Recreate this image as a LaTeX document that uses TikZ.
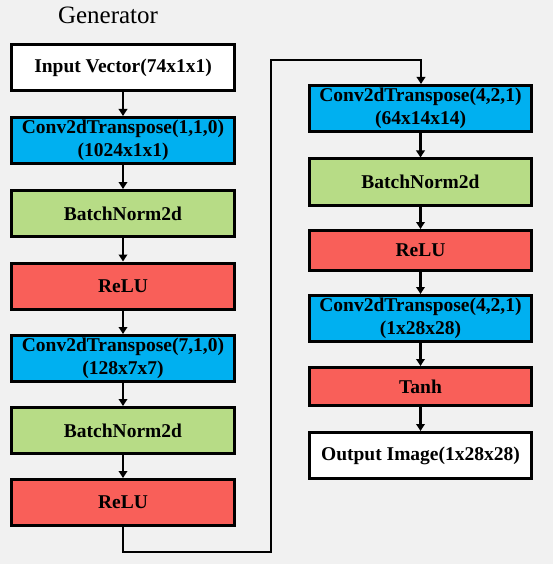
\documentclass[tikz,border=0pt]{standalone}
\usepackage{fontspec}
\setmainfont{Liberation Serif}
\usetikzlibrary{arrows.meta}

\definecolor{bgGray}{HTML}{F1F1F1}
\definecolor{convBlue}{HTML}{00B0F0}
\definecolor{normGreen}{HTML}{B7DC86}
\definecolor{actRed}{HTML}{F95F59}

\begin{document}
\begin{tikzpicture}[x=1pt, y=-1pt,
        >={Triangle[length=7pt,width=8.5pt]},
        layer/.style={draw, line width=3pt, minimum width=223pt, minimum height=46pt,
            inner sep=0pt, align=center, font=\fontsize{19.5}{23}\selectfont\bfseries},
        conv/.style={layer, fill=convBlue},
        norm/.style={layer, fill=normGreen},
        act/.style={layer, fill=actRed},
        io/.style={layer, fill=white},
        link/.style={->, line width=2.5pt}]
        % Background
        \fill[bgGray] (0,0) rectangle (553,564);
        \useasboundingbox (0,0) rectangle (553,564);

        \node[font=\fontsize{25}{28}\selectfont] (title) at (108,15) {Generator};

        % Left column
        \node[io] (L1) at (123,68) {Input Vector(74x1x1)};
        \node[conv] (L2) at (123,140.5) {Conv2dTranspose(1,1,0)\\(1024x1x1)};
        \node[norm] (L3) at (123,213.5) {BatchNorm2d};
        \node[act] (L4) at (123,286) {ReLU};
        \node[conv] (L5) at (123,358.5) {Conv2dTranspose(7,1,0)\\(128x7x7)};
        \node[norm] (L6) at (123,430.5) {BatchNorm2d};
        \node[act] (L7) at (123,502.5) {ReLU};

        % Right column
        \node[conv, minimum width=222pt] (R1) at (420.5,108.5) {Conv2dTranspose(4,2,1)\\(64x14x14)};
        \node[norm, minimum width=222pt] (R2) at (420.5,182) {BatchNorm2d};
        \node[act, minimum width=222pt, minimum height=40pt] (R3) at (420.5,250.5) {ReLU};
        \node[conv, minimum width=222pt] (R4) at (420.5,318.5) {Conv2dTranspose(4,2,1)\\(1x28x28)};
        \node[act, minimum width=222pt, minimum height=38pt] (R5) at (420.5,386.5) {Tanh};
        \node[io, minimum width=222pt] (R6) at (420.5,455.5) {Output Image(1x28x28)};

        % Edges
        \draw[link] (L1) -- (L2);
        \draw[link] (L2) -- (L3);
        \draw[link] (L3) -- (L4);
        \draw[link] (L4) -- (L5);
        \draw[link] (L5) -- (L6);
        \draw[link] (L6) -- (L7);
        \draw[link] (R1) -- (R2);
        \draw[link] (R2) -- (R3);
        \draw[link] (R3) -- (R4);
        \draw[link] (R4) -- (R5);
        \draw[link] (R5) -- (R6);

        % Column change
        \coordinate (turnA) at (123,552);
        \coordinate (turnB) at (271,552);
        \coordinate (turnC) at (271,60);
        \coordinate (turnD) at (421,60);
        \draw[link, line width=2pt] (L7.south) -- (turnA) -- (turnB) -- (turnC) -- (turnD) -- (R1.north -| turnD);
\end{tikzpicture}
\end{document}
